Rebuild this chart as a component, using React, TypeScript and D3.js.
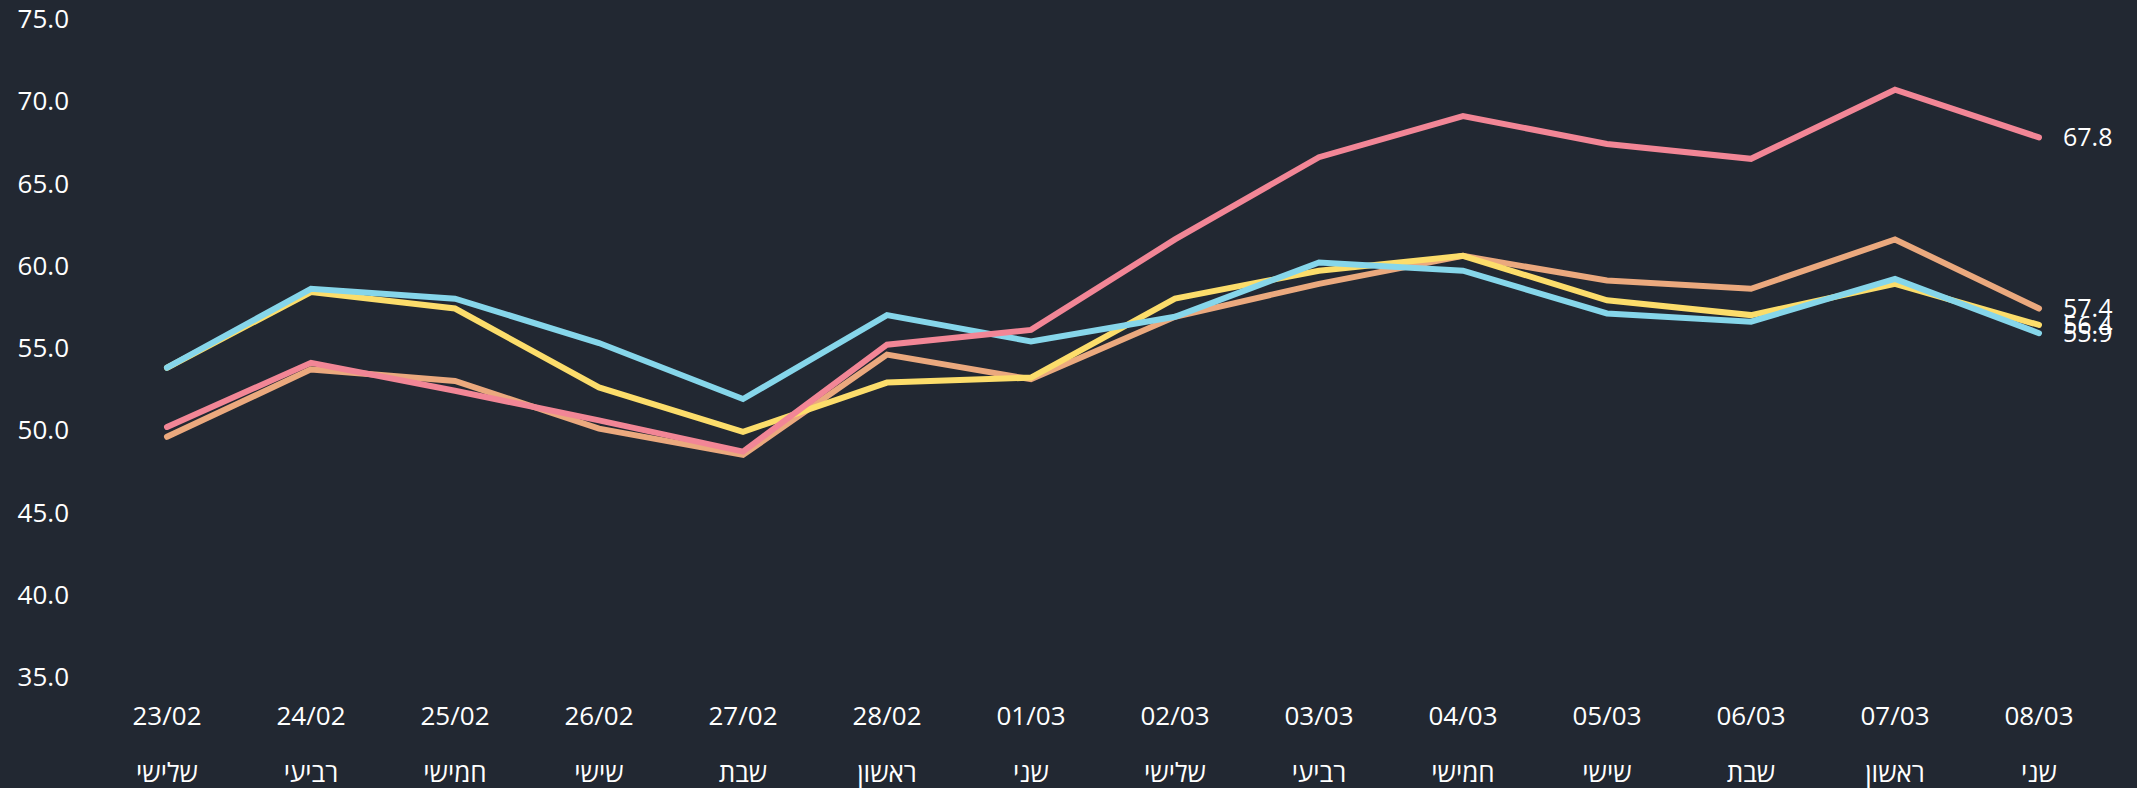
import React, { useEffect, useRef } from "react";
import * as d3 from "d3";

const dates = ["23/02","24/02","25/02","26/02","27/02","28/02","01/03","02/03","03/03","04/03","05/03","06/03","07/03","08/03"];
const days = ["שלישי","רביעי","חמישי","שישי","שבת","ראשון","שני","שלישי","רביעי","חמישי","שישי","שבת","ראשון","שני"];
const yTicks = [35, 40, 45, 50, 55, 60, 65, 70, 75];

const cyanValues = [53.8, 58.6, 58.0, 55.3, 51.9, 57.0, 55.4, 56.9, 60.2, 59.7, 57.1, 56.6, 59.2, 55.9];
const yellowValues = [53.8, 58.4, 57.4, 52.6, 49.9, 52.9, 53.2, 58.0, 59.7, 60.6, 57.9, 57.0, 58.9, 56.4];
const orangeValues = [49.6, 53.7, 53.0, 50.1, 48.5, 54.6, 53.1, 56.9, 58.9, 60.6, 59.1, 58.6, 61.6, 57.4];
const pinkValues = [50.2, 54.1, 52.4, 50.6, 48.7, 55.2, 56.1, 61.6, 66.6, 69.1, 67.4, 66.5, 70.7, 67.8];

const seriesNames = ["orange", "yellow", "cyan", "pink"];
const seriesColors = ["#EBA97E", "#FCDD6B", "#86D6EA", "#F28696"];
const seriesValues = [orangeValues, yellowValues, cyanValues, pinkValues];

const W = 2137;
const H = 788;
const FONT = "'Open Sans', 'DejaVu Sans', sans-serif";

export default function App() {
  const ref = useRef<SVGSVGElement>(null);

  useEffect(() => {
    const svg = d3.select(ref.current);
    svg.selectAll("*").remove();

    svg.append("rect").attr("width", W).attr("height", H).attr("fill", "#222832");

    const x = d3.scalePoint<string>().domain(dates.map((d, i) => String(i))).range([167, 2039]);
    const y = d3.scaleLinear().domain([35, 75]).range([677, 19]);

    // y labels
    svg.append("g").selectAll("text").data(yTicks).join("text")
      .attr("x", 69).attr("y", (d) => y(d)).attr("dy", "0.35em")
      .attr("text-anchor", "end").attr("fill", "#ffffff")
      .style("font-family", FONT).style("font-size", "26px")
      .text((d) => d.toFixed(1));

    // x labels
    const gx = svg.append("g");
    gx.selectAll("text.date").data(dates).join("text").attr("class", "date")
      .attr("x", (d, i) => x(String(i))!).attr("y", 716).attr("dy", "0.35em")
      .attr("text-anchor", "middle").attr("fill", "#ffffff")
      .style("font-family", FONT).style("font-size", "26px")
      .text((d) => d);
    gx.selectAll("text.day").data(days).join("text").attr("class", "day")
      .attr("x", (d, i) => x(String(i))!).attr("y", 773).attr("dy", "0.35em")
      .attr("text-anchor", "middle").attr("fill", "#ffffff")
      .style("font-family", FONT).style("font-size", "26px")
      .text((d) => d);

    const line = d3.line<number>().x((d, i) => x(String(i))!).y((d) => y(d));

    seriesValues.forEach((vals, si) => {
      svg.append("path").datum(vals)
        .attr("d", line)
        .attr("fill", "none")
        .attr("stroke", seriesColors[si])
        .attr("stroke-width", 6)
        .attr("stroke-linecap", "round")
        .attr("data-name", seriesNames[si]);
    });

    seriesValues.forEach((vals, si) => {
      const last = vals[vals.length - 1];
      svg.append("text")
        .attr("x", x(String(vals.length - 1))! + 24)
        .attr("y", y(last)).attr("dy", "0.35em")
        .attr("fill", "#ffffff")
        .style("font-family", FONT).style("font-size", "25px")
        .text(last.toFixed(1));
    });
  }, []);

  return (
    <svg ref={ref} width={W} height={H} style={{ position: "absolute", left: 0, top: 0, display: "block" }} />
  );
}
